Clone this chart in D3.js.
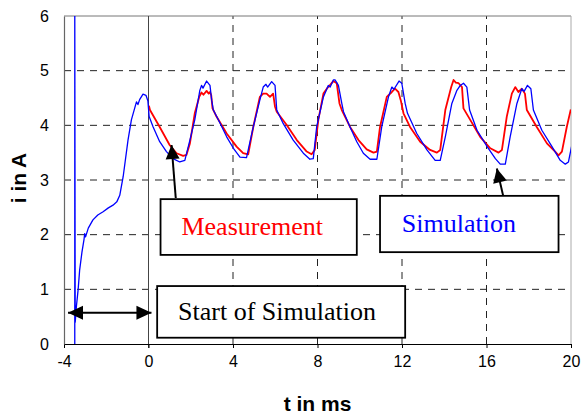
<!DOCTYPE html>
<html>
<head>
<meta charset="utf-8">
<script src="https://cdn.jsdelivr.net/npm/d3@7"></script>
<style>
  body { margin: 0; background: #fff; }
  svg { display: block; }
</style>
</head>
<body>
<svg id="chart" width="582" height="416"></svg>
<script>
// simulation (blue), t in ms / i in A
const simTime = [-3.49, -3.49, -3.47, -3.41, -3.33, -3.26, -3.15, -3.05, -3.02, -2.98, -2.85, -2.63, -2.4, -2.15, -1.9, -1.68, -1.5, -1.36, -1.2, -0.97, -0.81, -0.65, -0.57, -0.5, -0.42, -0.26, -0.12, -0.03, 0.03, 0.22, 0.53, 0.85, 1.16, 1.48, 1.72, 1.96, 2.19, 2.43, 2.51, 2.58, 2.75, 2.91, 2.99, 3.07, 3.4, 3.7, 4.02, 4.33, 4.64, 4.96, 5.27, 5.43, 5.56, 5.64, 5.83, 5.99, 6.07, 6.38, 6.85, 7.33, 7.64, 7.8, 7.96, 8.28, 8.51, 8.6, 8.75, 8.83, 8.99, 9.15, 9.23, 9.54, 9.86, 10.17, 10.49, 10.81, 11.04, 11.36, 11.52, 11.62, 11.86, 11.99, 12.15, 12.26, 12.7, 13.18, 13.57, 13.81, 14.05, 14.36, 14.6, 14.76, 14.91, 15.07, 15.2, 15.55, 16.03, 16.42, 16.65, 16.89, 17.12, 17.44, 17.67, 17.78, 17.94, 18.1, 18.22, 18.62, 19.1, 19.49, 19.73, 19.88, 20.04];
const simCurrent = [0, 6.2, 0.4, 0.7, 1.0, 1.35, 1.68, 1.92, 2.02, 1.96, 2.12, 2.27, 2.36, 2.42, 2.49, 2.54, 2.6, 2.72, 3.06, 3.73, 4.1, 4.32, 4.43, 4.38, 4.47, 4.57, 4.55, 4.45, 4.16, 3.97, 3.7, 3.52, 3.39, 3.33, 3.36, 3.73, 4.1, 4.64, 4.73, 4.68, 4.81, 4.73, 4.46, 4.28, 4.03, 3.79, 3.58, 3.42, 3.41, 3.97, 4.46, 4.7, 4.75, 4.7, 4.8, 4.73, 4.28, 4.03, 3.73, 3.49, 3.38, 3.39, 3.97, 4.52, 4.73, 4.7, 4.83, 4.83, 4.73, 4.4, 4.25, 3.97, 3.7, 3.49, 3.38, 3.38, 3.97, 4.52, 4.7, 4.66, 4.81, 4.77, 4.4, 4.22, 3.85, 3.55, 3.36, 3.36, 3.79, 4.4, 4.64, 4.73, 4.77, 4.7, 4.28, 3.91, 3.61, 3.39, 3.29, 3.29, 3.79, 4.4, 4.67, 4.62, 4.73, 4.67, 4.28, 3.91, 3.61, 3.36, 3.29, 3.33, 3.64];

// measurement (red)
const measTime = [0.02, 0.07, 0.53, 1.0, 1.33, 1.64, 1.8, 1.96, 2.19, 2.4, 2.51, 2.6, 2.75, 2.85, 2.91, 2.97, 3.03, 3.22, 3.7, 4.17, 4.48, 4.72, 4.96, 5.27, 5.43, 5.59, 5.75, 5.9, 5.99, 6.07, 6.55, 7.02, 7.49, 7.72, 7.87, 8.04, 8.28, 8.44, 8.6, 8.75, 8.91, 9.04, 9.15, 9.54, 9.94, 10.33, 10.65, 10.81, 10.96, 11.28, 11.52, 11.67, 11.83, 11.94, 12.07, 12.38, 12.86, 13.33, 13.65, 13.81, 14.05, 14.33, 14.44, 14.55, 14.68, 14.84, 14.91, 15.23, 15.7, 16.18, 16.57, 16.73, 16.96, 17.2, 17.36, 17.51, 17.67, 17.82, 17.91, 18.38, 18.86, 19.25, 19.41, 19.57, 19.8, 19.99];
const measCurrent = [4.36, 4.28, 3.97, 3.64, 3.49, 3.44, 3.46, 3.67, 4.22, 4.52, 4.6, 4.56, 4.63, 4.58, 4.61, 4.55, 4.31, 4.16, 3.85, 3.61, 3.49, 3.47, 3.97, 4.52, 4.58, 4.58, 4.52, 4.58, 4.34, 4.25, 4.0, 3.73, 3.52, 3.47, 3.55, 4.1, 4.58, 4.67, 4.74, 4.81, 4.77, 4.4, 4.28, 3.97, 3.73, 3.56, 3.5, 3.52, 3.97, 4.52, 4.61, 4.67, 4.61, 4.46, 4.22, 3.97, 3.7, 3.55, 3.5, 3.55, 4.28, 4.7, 4.83, 4.78, 4.77, 4.7, 4.31, 4.1, 3.79, 3.58, 3.5, 3.55, 4.16, 4.58, 4.7, 4.61, 4.67, 4.58, 4.28, 3.97, 3.67, 3.52, 3.45, 3.52, 3.97, 4.29];

const xTicks = [-4, 0, 4, 8, 12, 16, 20];
const yTicks = [0, 1, 2, 3, 4, 5, 6];
const xGrid = [4, 8, 12, 16];
const yGrid = [1, 2, 3, 4, 5];

const svg = d3.select("#chart"),
  width = 582,
  height = 416,
  margin = { top: 16, right: 11, bottom: 72, left: 64 };

const x = d3.scaleLinear().domain([-4, 20]).range([margin.left, width - margin.right]);
const y = d3.scaleLinear().domain([0, 6]).range([height - margin.bottom, margin.top]);

const sansFont = "'Liberation Sans', Arial, sans-serif";
const serifFont = "'Liberation Serif', 'Times New Roman', serif";

svg.append("defs").append("clipPath").attr("id", "plot-clip")
  .append("rect")
  .attr("x", x(-4)).attr("y", y(6))
  .attr("width", x(20) - x(-4)).attr("height", y(0) - y(6));

// grid lines
const grid = svg.append("g");
grid.selectAll(".hgrid").data(yGrid).enter().append("line")
  .attr("x1", x(-4)).attr("x2", x(20))
  .attr("y1", (d) => y(d)).attr("y2", (d) => y(d))
  .attr("stroke", "#222").attr("stroke-width", 1)
  .attr("stroke-dasharray", "7,6");
grid.selectAll(".vgrid").data(xGrid).enter().append("line")
  .attr("x1", (d) => x(d)).attr("x2", (d) => x(d))
  .attr("y1", y(0)).attr("y2", y(6))
  .attr("stroke", "#222").attr("stroke-width", 1)
  .attr("stroke-dasharray", "7,6");

// frame: top and right edges, solid line at t = 0
grid.append("line").attr("x1", x(-4)).attr("x2", x(20)).attr("y1", y(6)).attr("y2", y(6))
  .attr("stroke", "#777").attr("stroke-width", 1);
grid.append("line").attr("x1", x(20)).attr("x2", x(20)).attr("y1", y(6)).attr("y2", y(0))
  .attr("stroke", "#aaa").attr("stroke-width", 1);
grid.append("line").attr("x1", x(0)).attr("x2", x(0)).attr("y1", y(6)).attr("y2", y(0) + 4)
  .attr("stroke", "#444").attr("stroke-width", 1);

// axes
const xAxis = svg.append("g")
  .attr("transform", "translate(0," + y(0) + ")")
  .call(d3.axisBottom(x).tickValues(xTicks).tickSize(4).tickSizeOuter(0).tickPadding(8)
    .tickFormat((d) => String(d)));
xAxis.select(".domain").attr("stroke", "#000").attr("stroke-width", 1.2);
xAxis.selectAll(".tick line").attr("stroke", "#000");
xAxis.selectAll("text").attr("font-family", sansFont).attr("font-size", 16).attr("fill", "#000");

const yAxis = svg.append("g")
  .attr("transform", "translate(" + x(-4) + ",0)")
  .call(d3.axisLeft(y).tickValues(yTicks).tickSize(0).tickPadding(15).tickFormat((d) => String(d)));
yAxis.select(".domain").attr("stroke", "#666").attr("stroke-width", 1.2);
yAxis.selectAll("text").attr("font-family", sansFont).attr("font-size", 16).attr("fill", "#000");

// axis titles
svg.append("text")
  .attr("x", (x(-4) + x(20)) / 2).attr("y", 411)
  .attr("text-anchor", "middle")
  .attr("font-family", sansFont).attr("font-size", 21).attr("font-weight", "bold")
  .text("t in ms");
svg.append("text")
  .attr("transform", "translate(26," + (y(3) - 2) + ") rotate(-90)")
  .attr("text-anchor", "middle")
  .attr("font-family", sansFont).attr("font-size", 21).attr("font-weight", "bold")
  .text("i in A");

// series
const sim = simTime.map((t, i) => ({ t: t, v: simCurrent[i] }));
const meas = measTime.map((t, i) => ({ t: t, v: measCurrent[i] }));
const line = d3.line().x((d) => x(d.t)).y((d) => y(d.v));

const plot = svg.append("g").attr("clip-path", "url(#plot-clip)");
plot.append("path").datum(meas)
  .attr("d", line).attr("fill", "none")
  .attr("stroke", "#ff0000").attr("stroke-width", 1.8).attr("stroke-linejoin", "round");
plot.append("path").datum(sim)
  .attr("d", line).attr("fill", "none")
  .attr("stroke", "#0000ff").attr("stroke-width", 1.3).attr("stroke-linejoin", "round");

// annotations
function arrowHead(g, x1, y1, x2, y2, len, half) {
  const a = Math.atan2(y2 - y1, x2 - x1);
  const bx = x2 - len * Math.cos(a), by = y2 - len * Math.sin(a);
  const px = -Math.sin(a) * half, py = Math.cos(a) * half;
  g.append("path")
    .attr("d", "M" + x2 + "," + y2 + "L" + (bx + px) + "," + (by + py) + "L" + (bx - px) + "," + (by - py) + "Z")
    .attr("fill", "#000");
}
function arrow(x1, y1, x2, y2, len, half, both) {
  const g = svg.append("g");
  g.append("line")
    .attr("x1", x1).attr("y1", y1).attr("x2", x2).attr("y2", y2)
    .attr("stroke", "#000").attr("stroke-width", 2);
  arrowHead(g, x1, y1, x2, y2, len, half);
  if (both) arrowHead(g, x2, y2, x1, y1, len, half);
}

function box(t0, t1, v0, v1, label, color, tx, tv) {
  const g = svg.append("g");
  g.append("rect")
    .attr("x", x(t0)).attr("y", y(v0))
    .attr("width", x(t1) - x(t0)).attr("height", y(v1) - y(v0))
    .attr("fill", "#fff").attr("stroke", "#000").attr("stroke-width", 1.8);
  g.append("text")
    .attr("x", x(tx)).attr("y", y(tv))
    .attr("font-family", serifFont).attr("font-size", 26).attr("fill", color)
    .text(label);
}

arrow(x(1.29), y(2.67), x(1.09), y(3.64), 14, 7, false);
arrow(x(16.79), y(2.71), x(16.49), y(3.21), 14, 7, false);
arrow(x(-3.81), y(0.57), x(0.14), y(0.57), 15, 7, true);

box(0.57, 9.86, 2.65, 1.63, "Measurement", "#ff0000", 1.56, 2.0);
box(10.96, 19.41, 2.71, 1.68, "Simulation", "#0000ff", 11.99, 2.04);
box(0.41, 12.15, 1.06, 0.115, "Start of Simulation", "#000", 1.4, 0.43);
</script>
</body>
</html>
